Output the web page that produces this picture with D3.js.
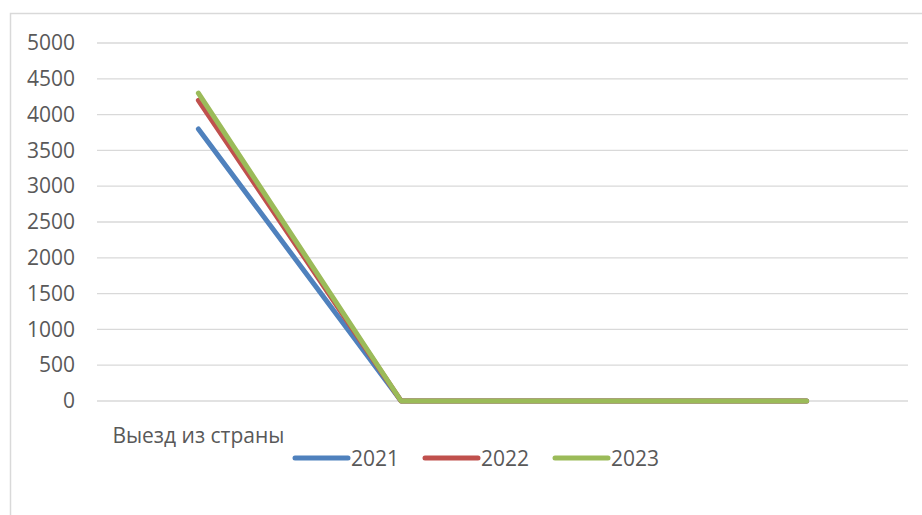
<!DOCTYPE html>
<html>
<head>
<meta charset="utf-8">
<script src="https://cdn.jsdelivr.net/npm/d3@7"></script>
<style>
body { margin: 0; background: #fff; }
text { font-family: "Open Sans", "Liberation Sans", sans-serif; fill: #595959; }
</style>
</head>
<body>
<svg id="chart" width="922" height="515"></svg>
<script>
var categories = ["Выезд из страны", "", " ", "  "];
var years = ["2021", "2022", "2023"];
var s2021 = [3800, 0, 0, 0];
var s2022 = [4200, 0, 0, 0];
var s2023 = [4300, 0, 0, 0];
var colors = ["#4F81BD", "#C0504D", "#9BBB59"];
var yTicks = [0, 500, 1000, 1500, 2000, 2500, 3000, 3500, 4000, 4500, 5000];

var svg = d3.select("#chart");
var margin = {top: 43, left: 97, right: 15};
var width = 908 - margin.left;
var height = 401 - margin.top;

// outer frame
svg.append("rect").attr("x", 10.5).attr("y", 13.5).attr("width", 930).attr("height", 520)
  .attr("fill", "none").attr("stroke", "#d9d9d9").attr("stroke-width", 1.5);

var g = svg.append("g").attr("transform", "translate(" + margin.left + "," + margin.top + ")");

var x = d3.scaleBand().domain(categories).range([0, width]);
var y = d3.scaleLinear().domain([0, 5000]).range([height, 0]);

// gridlines
g.selectAll(".grid").data(yTicks).enter().append("line")
  .attr("x1", 0).attr("x2", width)
  .attr("y1", function(d) { return y(d); }).attr("y2", function(d) { return y(d); })
  .attr("stroke", "#d9d9d9").attr("stroke-width", 1.3);

var yAxis = g.append("g").call(d3.axisLeft(y).tickValues(yTicks).tickFormat(d3.format("d")).tickSize(0).tickPadding(22));
yAxis.select(".domain").remove();
yAxis.selectAll("text").style("font-size", "21px").attr("fill", "#595959");

var xAxis = g.append("g").attr("transform", "translate(0," + height + ")")
  .call(d3.axisBottom(x).tickSize(0).tickPadding(27));
xAxis.select(".domain").remove();
xAxis.selectAll("text").style("font-size", "21px").attr("fill", "#595959");

var line = d3.line()
  .x(function(d, i) { return x(categories[i]) + x.bandwidth() / 2; })
  .y(function(d) { return y(d); });

var series = [s2021, s2022, s2023];
series.forEach(function(s, i) {
  g.append("path").datum(s).attr("d", line)
    .attr("fill", "none").attr("stroke", colors[i]).attr("stroke-width", 5)
    .attr("stroke-linecap", "round").attr("stroke-linejoin", "round");
});

// legend
var legend = svg.append("g").attr("transform", "translate(295,458)");
years.forEach(function(yr, i) {
  var lg = legend.append("g").attr("transform", "translate(" + (i * 130) + ",0)");
  lg.append("line").attr("x1", 0).attr("x2", 53).attr("y1", 0).attr("y2", 0)
    .attr("stroke", colors[i]).attr("stroke-width", 5).attr("stroke-linecap", "round");
  lg.append("text").attr("x", 56).attr("y", 8).style("font-size", "21px").text(yr);
});
</script>
</body>
</html>
